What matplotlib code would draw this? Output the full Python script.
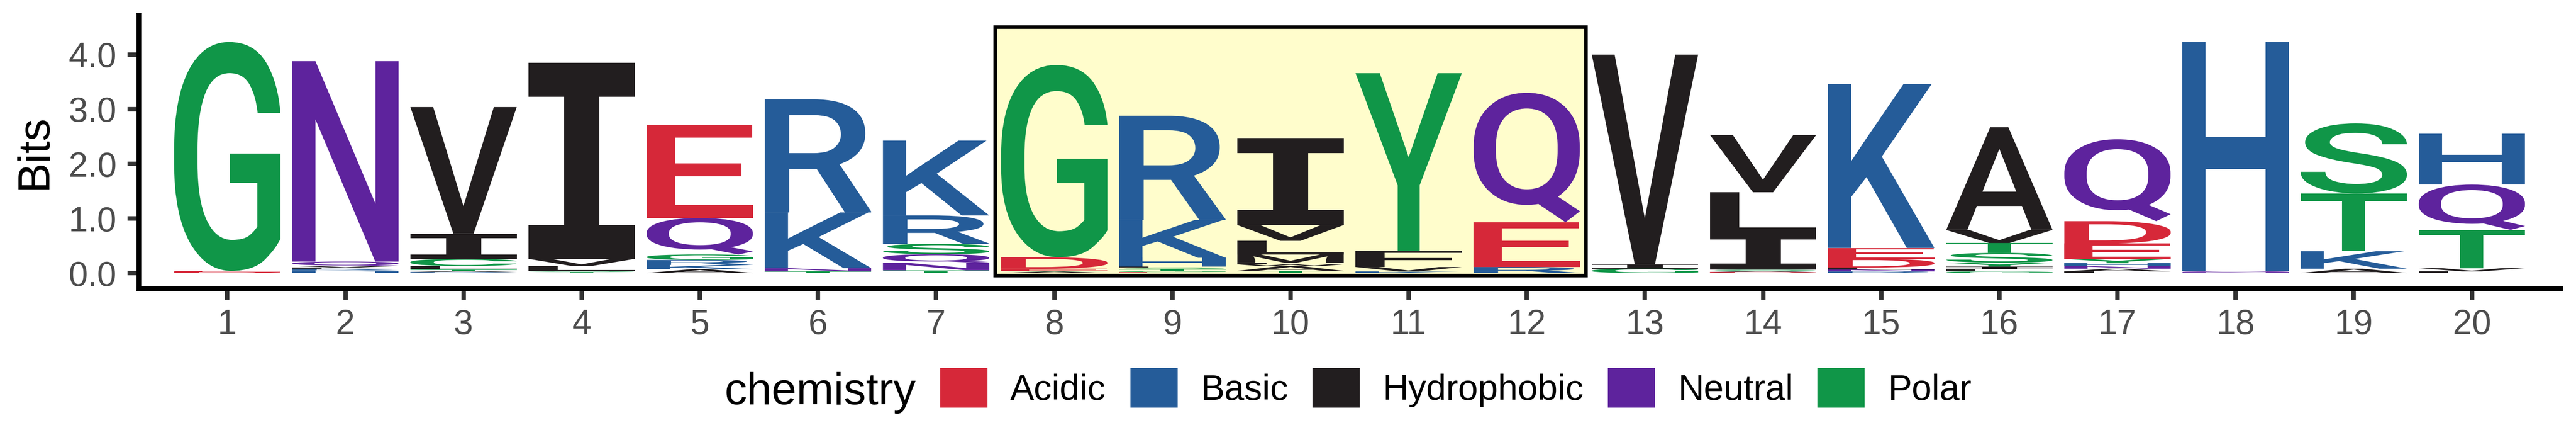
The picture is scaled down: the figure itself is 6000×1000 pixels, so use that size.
import matplotlib
matplotlib.use("Agg")
import matplotlib.pyplot as plt
from matplotlib.textpath import TextPath
from matplotlib.font_manager import FontProperties
from matplotlib.patches import PathPatch, Rectangle, Patch
from matplotlib.transforms import Affine2D

plt.rcParams['font.family'] = ['Liberation Sans', 'DejaVu Sans']

# chemistry colour scheme (ggseqlogo style)
chem_names = ['Acidic', 'Basic', 'Hydrophobic', 'Neutral', 'Polar']
chem_colors = ['#D62839', '#255C99', '#221E1F', '#5E239D', '#109648']
chem_letters = ['DE', 'KRH', 'AVLIPWFM', 'QN', 'GSTYC']

positions = list(range(1, 21))

# letters of each column, bottom to top, and their heights in bits
stack_letters = [
    "DEG", "HKRLVQN", "KRATSLCIV", "TSLVI", "AKRGQE",
    "TNKR", "TNQSRK", "ASEDG", "EGTSLHKR", "TAWFMLVI",
    "KVFY", "REQ", "GIV", "DASILV", "RNLDEK",
    "GLIYSTVA", "LANHYEDQ", "NQH", "AKTS", "LVTQH",
]
stack_heights = [
    [0.02, 0.02, 4.19],
    [0.03, 0.02, 0.03, 0.02, 0.03, 0.08, 3.67],
    [0.01, 0.01, 0.02, 0.02, 0.01, 0.06, 0.13, 0.46, 2.32],
    [0.02, 0.02, 0.09, 0.13, 3.59],
    [0.07, 0.08, 0.09, 0.10, 0.67, 1.71],
    [0.03, 0.06, 1.02, 2.07],
    [0.05, 0.14, 0.155, 0.19, 0.52, 1.37],
    [0.03, 0.01, 0.04, 0.21, 3.52],
    [0.02, 0.02, 0.03, 0.03, 0.02, 0.16, 0.69, 1.91],
    [0.04, 0.09, 0.03, 0.03, 0.15, 0.25, 0.29, 1.59],
    [0.03, 0.08, 0.30, 3.25],
    [0.11, 0.82, 2.37],
    [0.08, 0.08, 3.84],
    [0.02, 0.02, 0.02, 0.67, 0.75, 1.05],
    [0.03, 0.035, 0.035, 0.16, 0.20, 3.0],
    [0.03, 0.04, 0.05, 0.07, 0.18, 0.18, 0.24, 1.88],
    [0.03, 0.05, 0.05, 0.05, 0.08, 0.28, 0.41, 1.50],
    [0.02, 0.02, 4.19],
    [0.08, 0.32, 1.06, 1.28],
    [0.03, 0.06, 0.70, 0.83, 0.93],
]

# highlighted region
hl_start, hl_end = 7.5, 12.5
hl_bottom, hl_top = -0.05, 4.5

y_ticks = [0, 1, 2, 3, 4]
y_ticklabels = ['0.0', '1.0', '2.0', '3.0', '4.0']

letter_fp = FontProperties(family='Roboto', weight='medium')
mono_fp = FontProperties(family='DejaVu Sans Mono', weight='bold')


def letter_color(letter):
    for col, group in zip(chem_colors, chem_letters):
        if letter in group:
            return col
    return '#888888'


def draw_letter(ax, letter, x, y0, h, color, width=0.9):
    fp = mono_fp if letter == 'I' else letter_fp
    p = TextPath((0, 0), letter, size=1, prop=fp)
    ext = p.get_extents()
    t = (Affine2D().translate(-ext.x0, -ext.y0)
         .scale(width / ext.width, h / ext.height)
         .translate(x - width / 2, y0))
    ax.add_patch(PathPatch(t.transform_path(p), facecolor=color, lw=0, zorder=3))


W, H = 6000, 1000
fig = plt.figure(figsize=(W / 100, H / 100), dpi=100)
ax = fig.add_axes([323 / W, 1 - 671 / H, (5964 - 323) / W, (671 - 35) / H])

ax.set_xlim(0.25, 20.75)
ax.set_ylim(-0.283, 4.724)

ax.add_patch(Rectangle((hl_start, hl_bottom), hl_end - hl_start, hl_top - hl_bottom,
                       facecolor='#FFFDCC', edgecolor='black', lw=6, zorder=1))

for pos, letters, heights in zip(positions, stack_letters, stack_heights):
    y = 0.0
    for letter, h in zip(letters, heights):
        draw_letter(ax, letter, pos, y, h, letter_color(letter))
        y += h

for side in ['top', 'right']:
    ax.spines[side].set_visible(False)
for side in ['left', 'bottom']:
    ax.spines[side].set_linewidth(8)
    ax.spines[side].set_color('black')

ax.set_xticks(positions)
ax.set_xticklabels([str(p) for p in positions])
ax.set_yticks(y_ticks)
ax.set_yticklabels(y_ticklabels)
ax.tick_params(axis='both', length=19, width=7.5, color='#333333',
               labelcolor='#4D4D4D', labelsize=58)
ax.tick_params(axis='x', pad=15)
ax.tick_params(axis='y', pad=18)
ax.set_ylabel('Bits', fontsize=75, labelpad=22)

handles = [Patch(facecolor=c, edgecolor='none') for c in chem_colors]
fig.legend(handles, chem_names, loc='center left',
           bbox_to_anchor=(2190 / W, 1 - 902 / H), ncol=5, frameon=False,
           fontsize=60, handlelength=1.32, handleheight=1.32,
           handletextpad=0.64, columnspacing=0.68, borderpad=0, borderaxespad=0)
fig.text(2133 / W, 1 - 940 / H, 'chemistry', ha='right', va='baseline', fontsize=75)

fig.savefig('out.png', dpi=100)
